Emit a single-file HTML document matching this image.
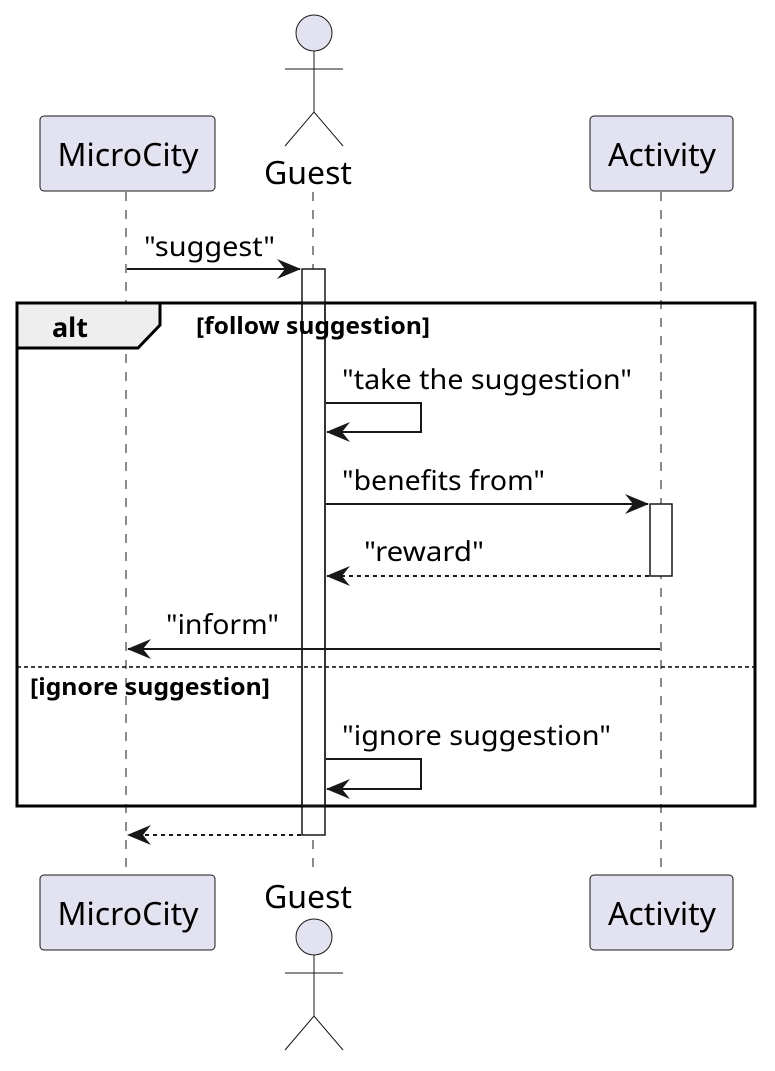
<!DOCTYPE html>
<html><head><style>body{margin:0;background:#fff}svg{display:block}</style></head><body>
<svg width="775" height="1071" viewBox="0 0 775 1071" xmlns="http://www.w3.org/2000/svg" font-family="'Noto Sans','DejaVu Sans','Liberation Sans',sans-serif">
<defs>
<marker id="a" viewBox="0 0 24 20" refX="23" refY="10" markerWidth="24" markerHeight="20" markerUnits="userSpaceOnUse" orient="auto"><path d="M0,0 L24,10 L0,20 L8,10 Z" fill="#181818"/></marker>
</defs>
<g stroke="#181818" stroke-width="1" stroke-dasharray="9,9">
<line x1="126" y1="192" x2="126" y2="870"/>
<line x1="313" y1="192" x2="313" y2="870"/>
<line x1="661" y1="192" x2="661" y2="870"/>
</g>
<g fill="#E2E2F0" stroke="#181818" stroke-width="1">
<rect x="40" y="116" width="175" height="75" rx="4"/>
<rect x="590" y="116" width="143" height="75" rx="4"/>
<rect x="40" y="875" width="175" height="75" rx="4"/>
<rect x="590" y="875" width="143" height="75" rx="4"/>
<circle cx="314" cy="33" r="18"/>
<circle cx="314" cy="937" r="18"/>
</g>
<g stroke="#181818" stroke-width="1" fill="none">
<path d="M314,51 V112 M285,69 H343 M285,146 L314,112 L343,146"/>
<path d="M314,955 V1016 M285,973 H343 M285,1050 L314,1016 L343,1050"/>
</g>
<g font-size="32" fill="#000" text-anchor="middle">
<text x="128" y="166">MicroCity</text>
<text x="662" y="166">Activity</text>
<text x="308" y="184">Guest</text>
<text x="128" y="925">MicroCity</text>
<text x="662" y="925">Activity</text>
<text x="308" y="908">Guest</text>
</g>
<rect x="302" y="269" width="23" height="566" fill="#fff" stroke="#181818" stroke-width="1.5"/>
<rect x="650" y="504" width="22" height="72" fill="#fff" stroke="#181818" stroke-width="1.5"/>
<rect x="17" y="303" width="738" height="503" fill="none" stroke="#000" stroke-width="3"/>
<path d="M17,303 H160 V325 L138,348 H17 Z" fill="#EEEEEE" stroke="#000" stroke-width="3"/>
<line x1="17" y1="667" x2="755" y2="667" stroke="#000" stroke-width="1.5" stroke-dasharray="4,3"/>
<rect x="302" y="303" width="23" height="503" fill="none" stroke="#181818" stroke-width="1.5"/>
<g font-weight="bold" fill="#000">
<text x="52" y="337" font-size="27">alt</text>
<text x="196" y="334" font-size="23" textLength="234" lengthAdjust="spacingAndGlyphs">[follow suggestion]</text>
<text x="30" y="695" font-size="23" textLength="240" lengthAdjust="spacingAndGlyphs">[ignore suggestion]</text>
</g>
<g stroke="#181818" stroke-width="2" fill="none">
<line x1="127" y1="269" x2="300" y2="269" marker-end="url(#a)"/>
<path d="M326,403 H421 V432 H327" marker-end="url(#a)"/>
<line x1="326" y1="504" x2="648" y2="504" marker-end="url(#a)"/>
<line x1="649" y1="576" x2="327" y2="576" stroke-dasharray="4,4" marker-end="url(#a)"/>
<line x1="660" y1="649" x2="128" y2="649" marker-end="url(#a)"/>
<path d="M326,759 H421 V789 H327" marker-end="url(#a)"/>
<line x1="301" y1="835" x2="128" y2="835" stroke-dasharray="4,4" marker-end="url(#a)"/>
</g>
<g font-size="27" fill="#000">
<text x="144" y="256" textLength="131" lengthAdjust="spacingAndGlyphs">"suggest"</text>
<text x="342" y="389" textLength="290" lengthAdjust="spacingAndGlyphs">"take the suggestion"</text>
<text x="342" y="490" textLength="203" lengthAdjust="spacingAndGlyphs">"benefits from"</text>
<text x="364" y="561" textLength="120" lengthAdjust="spacingAndGlyphs">"reward"</text>
<text x="166" y="634" textLength="113" lengthAdjust="spacingAndGlyphs">"inform"</text>
<text x="342" y="745" textLength="269" lengthAdjust="spacingAndGlyphs">"ignore suggestion"</text>
</g>
</svg>
</body></html>
